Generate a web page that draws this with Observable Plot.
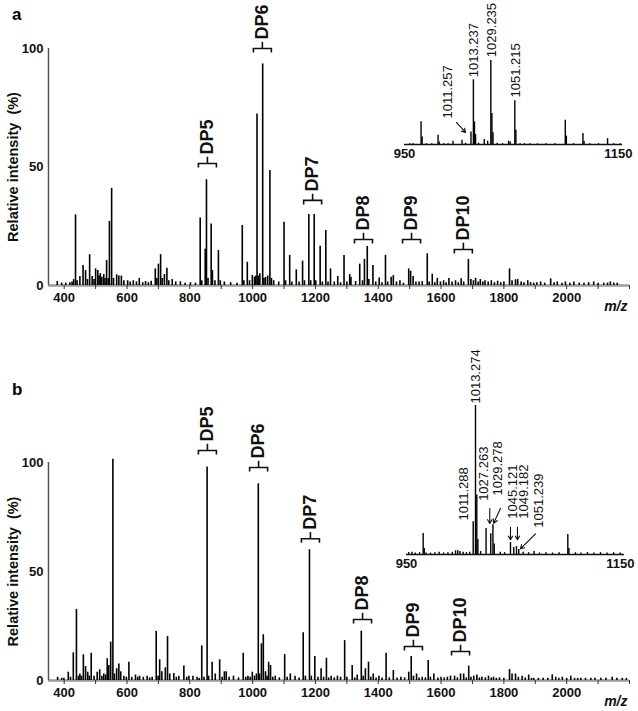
<!DOCTYPE html>
<html><head><meta charset="utf-8">
<script src="https://cdn.jsdelivr.net/npm/d3@7"></script>
<script src="https://cdn.jsdelivr.net/npm/@observablehq/plot@0.6"></script>
<style>
body{margin:0;background:#fff;}
#root{position:relative;width:638px;height:711px;font-family:"Liberation Sans",Arial,sans-serif;overflow:hidden;}
.pane{position:absolute;}
.pane svg{overflow:visible;}
.letter{position:absolute;font-weight:bold;font-size:17px;line-height:20px;}
</style></head><body><div id="root"></div>
<script>
// ---------- data ----------
const xTicks = [400,500,600,700,800,900,1000,1100,1200,1300,1400,1500,1600,1700,1800,1900,2000,2100,2200];
const xTickLabels = [400,600,800,1000,1200,1400,1600,1800,2000];
const yTicks = [0,50,100];

// panel a spectrum (m/z, relative intensity %)
const mzA = [378,392,405,418,425,430,436,441,450,460,468,474,481,489,495,500,507,511,515,520,526,530,535,540,544,551,557,567,574,582,590,602,610,620,630,639,650,659,668,677,690,695,700,707,712,719,727,733,744,755,770,785,802,818,833,838,849,853,858,868,872,880,891,897,910,930,950,967,972,983,990,999,1006,1010,1014,1018,1023,1032,1036,1041,1048,1055,1060,1067,1083,1100,1105,1118,1125,1139,1148,1159,1165,1179,1185,1196,1201,1215,1222,1233,1240,1248,1260,1271,1280,1291,1300,1309,1313,1328,1341,1350,1356,1365,1370,1383,1392,1403,1412,1423,1430,1441,1448,1458,1469,1480,1497,1503,1511,1520,1530,1540,1556,1562,1572,1580,1588,1598,1608,1616,1625,1635,1646,1655,1664,1672,1687,1695,1703,1710,1718,1725,1733,1740,1750,1760,1770,1780,1790,1800,1818,1826,1837,1844,1855,1864,1876,1885,1895,1905,1917,1930,1949,1960,1970,1985,1996,2010,2023,2040,2055,2070,2086,2100,2118,2130,2139,2150,2161];
const intA = [1.7,1,1,1.2,1.5,2.5,29.8,2,3.8,8.4,6.3,2.5,13,3.8,2.5,7,6.3,4,5,3.5,4.6,3,10.5,3,27,41,3,4.5,4,4,2,2,1.5,2,1.5,3,1.2,1.7,1.2,1.8,7,3,9,13,3,4.6,7.3,2,2.5,1.5,1.6,1,1.2,1,28.5,2,15.3,44.6,3,26,6.3,2,14.8,2,1.5,1.2,1,25.3,2,9.8,2,4.2,3.5,4,72.4,4,5,93.5,3,3.4,4,48.5,3,2,1.5,26.7,2,12.7,1.5,6.6,1.5,10.3,2,30,2,30,2,16.6,1.5,23.2,1.5,7,1.5,3.8,1.2,12.7,1.5,4.6,3.5,1.7,9,2,11,16.5,2.5,8.4,1.5,3.2,1.2,12.7,1.5,3.5,4.2,1.5,2,1,7,6,3.8,1.5,1.5,1.7,13.4,1.5,4.8,1.2,3,1.5,2,1.2,3,1.5,2,1.2,2.8,1.5,11,2.5,2,3,1.5,2.5,1.5,2,1.5,2,1.2,1.8,1.2,1.5,7,2,2.4,2.5,1.5,1.2,2,1.2,1,1.2,1.5,1,2.8,1.2,1.5,1,1.5,1,1.5,1,1,1.2,1.5,1,1,1,1.5,1,1];

// panel b spectrum
const mzB = [379,392,399,413,420,429,439,445,450,455,461,468,475,480,486,495,505,513,520,526,532,537,542,548,555,560,567,574,580,590,598,606,615,627,634,640,652,664,672,680,693,699,704,711,722,729,736,749,757,765,781,790,797,810,823,830,838,845,855,860,871,881,895,903,910,916,925,939,955,970,978,985,992,999,1006,1012,1018,1022,1028,1034,1041,1046,1051,1057,1064,1072,1085,1102,1110,1120,1135,1148,1161,1168,1181,1187,1198,1208,1218,1226,1235,1242,1250,1260,1270,1280,1293,1300,1317,1325,1333,1346,1352,1359,1369,1376,1384,1393,1402,1412,1425,1435,1448,1460,1472,1484,1497,1505,1512,1522,1530,1540,1550,1559,1566,1577,1590,1600,1610,1620,1630,1643,1652,1662,1672,1680,1688,1695,1704,1714,1722,1730,1741,1751,1760,1767,1776,1786,1800,1818,1826,1837,1846,1858,1868,1879,1888,1895,1910,1925,1940,1954,1965,1975,1986,2000,2013,2025,2035,2045,2060,2077,2090,2109,2125,2145,2160,2177,2190];
const intB = [1.5,1,1,3.8,1.5,12.7,32.6,2,3,2,11.8,6.4,3.8,2,12.5,2,3.8,4.9,2,3,2.5,10,6.9,17.6,101.5,3,5.4,7.6,4,2,1.5,8.4,1.5,2.5,1.5,2,1.5,2,1.2,1.5,22.5,2,9.5,4,5.8,20.2,3,3.2,1.5,2,6.7,1.5,2,2,1.5,1,15.9,1.5,97.9,2,8.4,3,9.5,1.5,4,4,1.5,2,1.2,12.5,1.5,2,1.5,3.8,2,3,90.2,3,16.8,21,4,2,8.4,6.9,1.5,2,1.2,11.9,1.5,3,2,1.2,21.9,2,60,2,11,1.5,5.4,1.5,10.2,1.2,2,1.2,2,1.5,18.3,1.5,6.9,1.2,2.5,22.6,2,5.4,8.4,1.5,3,1.2,2,1.2,12.5,1.2,4.6,1.2,1.5,1.2,3.8,11,2,3,1.2,1.5,1.2,9.2,1.5,3,1.2,1.5,1.2,1.5,2,2,1.2,3,3,1.2,6.6,1.5,2,2.5,1.2,1.5,1.2,2,1.2,1.5,1,1.2,1,5,3,3,1.5,2,1.2,2.5,1,1,1,1,1,2.6,1.5,1,1.5,1,2,1,1,1,1,1,1,1,1,1.5,1,1,1];

// DP annotations
const dpLabels = ["DP5","DP6","DP7","DP8","DP9","DP10"];
const dpMzA = [856,1031,1191,1353,1506,1671];
const dpYA = [51.5,100,35.9,19.4,19.4,15.2];
const dpMzB = [856,1019,1184,1350,1512,1662];
const dpYB = [105.5,97.7,65,28,15.6,13.3];

// inset a (zoom 950-1150)
const insetTicks = [950,1150];
const insMzA = [955,958,965.2,966.2,970,975,980.8,981.8,986,990,994.5,1002.8,1006,1011,1013.2,1014.2,1015.2,1018,1023.2,1026.3,1029.2,1030.2,1031.2,1035,1040,1045.5,1047,1051.2,1052.2,1056,1060,1065,1072,1080,1088,1097.5,1098.5,1105,1113.7,1114.7,1120,1128,1136.3,1142,1148];
const insIntA = [1,0.8,27,9,1,0.8,11,3,1,1,4,5,1.5,15,77,27,12,1.5,6,4,100,37,14,1.5,1,4,3,52,17,1,1,1,0.8,0.8,1,29,10,1,13,4,0.8,1,7,0.8,0.8];
const insLabA = ["1011.257","1013.237","1029.235","1051.215"];
const insLabMzA = [989.4,1013.3,1029.8,1051.8];
const insLabYA = [31,80,104,56];
const insArrA = {x1:[997.7], y1:[26.2], x2:[1006], y2:[14.3]};

// inset b
const insMzB = [952,955,958,962,965.3,966.3,968,972,976,980,984,988,992,995,997,999,1002,1005,1008,1011.2,1013.3,1014.5,1015.5,1018,1023,1027.3,1029.3,1030.5,1036,1040,1045.4,1048.4,1050.9,1053,1057,1062,1067,1072,1078,1084,1090,1098,1099,1105,1110,1116,1122,1128,1134,1140,1146];
const insIntB = [1.3,1.5,1,1.2,14.1,4,1,1,1.2,1.5,1,1.2,1.5,2.5,2.5,2,1.5,1.2,1.5,22,100,40,10,2,17.4,14,20,7,1.5,1.2,8,4.7,5.4,3.4,1.5,1.2,2,1,1.2,1,1.2,13.4,4,1.2,1,1.3,1,1.2,1,1.2,1];
const insLabB = ["1013.274","1011.288","1027.263","1029.278","1045.121","1049.182","1051.239"];
const insLabMzB = [1013.9,1002.3,1020.6,1033.4,1047.2,1057.3,1071];
const insLabYB = [101.3,22.8,36,39.6,24,24,18];
const insArrB = {x1:[1026.4,1036.2,1045.4,1051.8,1068.3], y1:[30.9,30.9,18.3,18.3,13.9], x2:[1026.4,1029.9,1045.4,1051.8,1054.5], y2:[20.8,21,9.9,9.9,3.8]};

// ---------- drawing ----------
const FONT = "'Liberation Sans', Arial, Helvetica, sans-serif";
const root = document.getElementById("root");

const bracket = {
  draw(ctx, size) {
    const r = Math.sqrt(size / Math.PI);
    ctx.moveTo(-r, r * 0.45); ctx.lineTo(-r, 0); ctx.lineTo(r, 0); ctx.lineTo(r, r * 0.45);
    ctx.moveTo(0, 0); ctx.lineTo(0, -r * 0.75);
  }
};

function place(node, left, top) {
  const d = document.createElement("div");
  d.className = "pane"; d.style.left = left + "px"; d.style.top = top + "px";
  d.appendChild(node); root.appendChild(d);
}

function mainPanel(mz, inten, dpMz, dpY, h, mt, mb) {
  const peaks = mz.map((m, i) => ({mz: m, v: inten[i]}));
  const ann = dpLabels.map((l, i) => ({label: l, mz: dpMz[i], y: dpY[i]}));
  return Plot.plot({
    width: 638, height: h, marginLeft: 48, marginRight: 9, marginTop: mt, marginBottom: mb,
    style: {fontFamily: FONT, background: "transparent", overflow: "visible"},
    x: {domain: [350, 2200]},
    y: {domain: [0, 100]},
    marks: [
      Plot.ruleY([0], {stroke: "#9a9a9a", strokeWidth: 2.5}),
      Plot.ruleX([350], {y1: 0, y2: 100, stroke: "#555", strokeWidth: 1.5}),
      Plot.axisX({ticks: xTicks, tickSize: 4, tickPadding: 3, stroke: "#333",
        tickFormat: d => xTickLabels.includes(d) ? String(d) : "",
        fontSize: 13, fontWeight: "bold", fill: "#111", label: null}),
      Plot.axisY({ticks: yTicks, tickSize: 0, tickPadding: 5, fontSize: 13, fontWeight: "bold", fill: "#111", label: null}),
      Plot.text(["Relative intensity\u00a0 (%)"], {frameAnchor: "left", rotate: -90, dx: -35, text: d => d,
        fontSize: 14.5, fontWeight: "bold", fill: "#111", textAnchor: "middle"}),
      Plot.text(["m/z"], {frameAnchor: "bottom-right", text: d => d, dy: 25, dx: -2, textAnchor: "end",
        fontSize: 14, fontWeight: "bold", fontStyle: "italic", fill: "#111"}),
      Plot.ruleX(peaks, {x: "mz", y1: 0, y2: "v", stroke: "#000", strokeWidth: 1.6}),
      Plot.dot(ann, {x: "mz", y: "y", symbol: bracket, r: 9, stroke: "#111", strokeWidth: 1.6, fill: "none"}),
      Plot.text(ann, {x: "mz", y: "y", text: "label", rotate: -90, textAnchor: "start", lineAnchor: "middle",
        dy: -9, fontSize: 18, fontWeight: "bold", fill: "#111"})
    ]
  });
}

function insetPanel(mz, inten, labs, labMz, labY, arr, h, mt, mb) {
  const peaks = mz.map((m, i) => ({mz: m, v: inten[i]}));
  const labels = labs.map((l, i) => ({label: l, mz: labMz[i], y: labY[i]}));
  const arrows = arr.x1.map((x, i) => ({x1: x, y1: arr.y1[i], x2: arr.x2[i], y2: arr.y2[i]}));
  const ticks = insetTicks.map((t) => ({t}));
  return Plot.plot({
    width: 240, height: h, marginLeft: 11, marginRight: 11, marginTop: mt, marginBottom: mb,
    style: {fontFamily: FONT, background: "transparent", overflow: "visible"},
    x: {domain: [950, 1150], axis: null},
    y: {domain: [0, 100], axis: null},
    marks: [
      Plot.ruleY([0], {stroke: "#111", strokeWidth: 1.3}),
      Plot.ruleX(peaks, {x: "mz", y1: 0, y2: "v", stroke: "#000", strokeWidth: 1.4}),
      Plot.text(ticks.slice(0, 1), {x: "t", y: 0, text: d => String(d.t), dy: 4, lineAnchor: "top",
        textAnchor: "middle", fontSize: 13, fontWeight: "bold", fill: "#111"}),
      Plot.text(ticks.slice(1), {x: "t", y: 0, text: d => String(d.t), dy: 4, dx: 10, lineAnchor: "top",
        textAnchor: "end", fontSize: 13, fontWeight: "bold", fill: "#111"}),
      Plot.text(labels, {x: "mz", y: "y", text: "label", rotate: -90, textAnchor: "start", lineAnchor: "middle",
        fontSize: 13, fill: "#111"}),
      Plot.arrow(arrows, {x1: "x1", y1: "y1", x2: "x2", y2: "y2", stroke: "#111", strokeWidth: 1.1, headLength: 6})
    ]
  });
}

place(mainPanel(mzA, intA, dpMzA, dpYA, 330, 48, 45), 0, 0);
place(mainPanel(mzB, intB, dpMzB, dpYB, 381, 132, 31), 0, 330);
place(insetPanel(insMzA, insIntA, insLabA, insLabMzA, insLabYA, insArrA, 165, 60, 21), 393, 0);
place(insetPanel(insMzB, insIntB, insLabB, insLabMzB, insLabYB, insArrB, 240, 65, 26), 395, 340);

const la = document.createElement("div"); la.className = "letter"; la.textContent = "a";
la.style.left = "12px"; la.style.top = "5px"; root.appendChild(la);
const lb = document.createElement("div"); lb.className = "letter"; lb.textContent = "b";
lb.style.left = "12px"; lb.style.top = "380px"; root.appendChild(lb);
</script></body></html>
